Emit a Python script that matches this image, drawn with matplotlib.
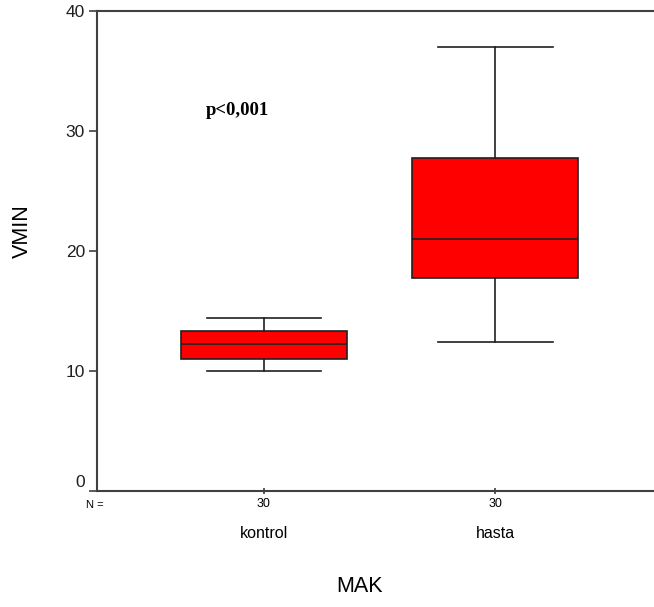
import matplotlib.pyplot as plt
import matplotlib.transforms as mtransforms

# groups and box summary values
groups = ["kontrol", "hasta"]
n_counts = [30, 30]
whisker_low = [10.0, 12.4]
q1 = [11.0, 17.7]
median = [12.25, 21.0]
q3 = [13.3, 27.7]
whisker_high = [14.4, 37.0]

plt.rcParams['font.family'] = ['Liberation Sans', 'DejaVu Sans']

fig = plt.figure(figsize=(6.54, 6.07), dpi=100, facecolor='w')
ax = fig.add_axes([0.149, 0.1916, 0.863, 0.7908])

stats = []
for i in range(len(groups)):
    stats.append({'med': median[i], 'q1': q1[i], 'q3': q3[i],
                  'whislo': whisker_low[i], 'whishi': whisker_high[i],
                  'fliers': []})
positions = list(range(1, len(groups) + 1))

ax.bxp(stats, positions=positions, widths=0.717, patch_artist=True,
       showfliers=False, capwidths=0.495,
       boxprops=dict(facecolor='#ff0000', edgecolor='#202020', linewidth=1.2),
       medianprops=dict(color='#202020', linewidth=1.2),
       whiskerprops=dict(color='#202020', linewidth=1.2),
       capprops=dict(color='#202020', linewidth=1.2))

ax.set_xlim(0.28, 2.72)
ax.set_ylim(0, 40)
ax.set_yticks([0, 10, 20, 30, 40])
ax.tick_params(axis='y', direction='out', length=6, width=1.2, color='#404040',
               labelsize=12.5, pad=3, labelcolor='#202020')
ax.set_xticks(positions, labels=[str(n) for n in n_counts])
ax.tick_params(axis='x', direction='inout', length=5, width=1.2, color='#404040',
               labelsize=9, pad=3)

# the "0" label sits a little above its tick in the original
zero_label = ax.get_yticklabels()[0]
zero_label.set_transform(zero_label.get_transform() +
                         mtransforms.ScaledTranslation(0, 10 / 100, fig.dpi_scale_trans))

ax.spines['right'].set_visible(False)
for side in ['left', 'top', 'bottom']:
    ax.spines[side].set_color('#404040')
    ax.spines[side].set_linewidth(1.5)

trans = mtransforms.blended_transform_factory(ax.transData, fig.transFigure)
for pos, name in zip(positions, groups):
    ax.text(pos, 1 - 533 / 607, name, transform=trans, ha='center', va='center',
            fontsize=11.5)

fig.text(95 / 654, 1 - 505 / 607, "N =", ha='center', va='center', fontsize=8)
fig.text(360 / 654, 1 - 587 / 607, "MAK", ha='center', va='center', fontsize=15.5)
fig.text(22 / 654, 1 - 231 / 607, "VMIN", ha='center', va='center', fontsize=15.5,
         rotation=90)

ax.text(0.885, 31.7, "p<0,001", ha='center', va='center', fontsize=13.5,
        fontweight='bold', family=['Liberation Serif', 'DejaVu Serif'])

fig.savefig("out.png", dpi=100)
